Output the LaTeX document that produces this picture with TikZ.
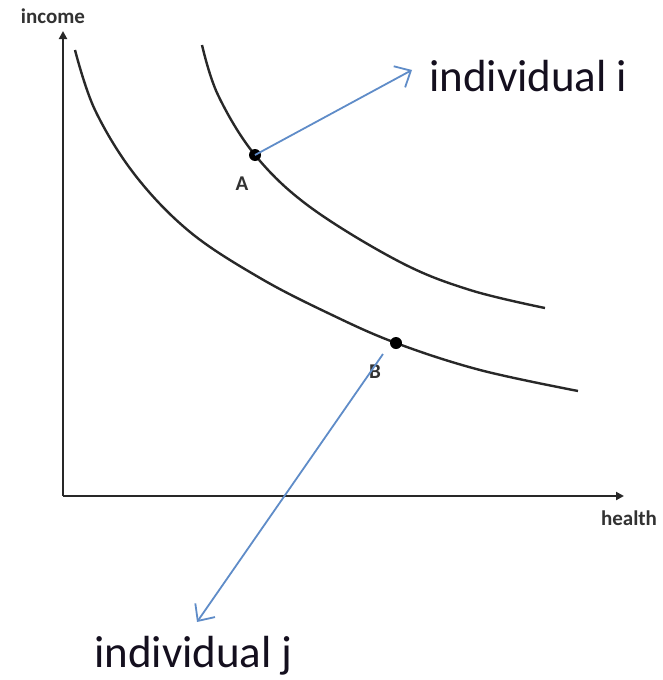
\documentclass[tikz,border=0pt]{standalone}
\usepackage{fontspec}
\setmainfont{Carlito}
\usetikzlibrary{arrows.meta}
\definecolor{arrowblue}{RGB}{95,140,200}
\definecolor{axisgray}{RGB}{40,40,40}
\definecolor{labelgray}{RGB}{50,50,50}
\definecolor{bigtext}{RGB}{20,15,30}
\tikzset{
  axis/.style={draw=axisgray, line width=2.8pt, -{Triangle[length=8pt,width=8pt]}},
  curve/.style={draw=axisgray, line width=2.4pt},
  dotpt/.style={circle, fill=black, inner sep=0pt, minimum size=12pt},
  pointer/.style={draw=arrowblue, line width=1.8pt, -{Straight Barb[length=13pt,width=24pt,line width=1.8pt]}},
  axlabel/.style={text=labelgray, font=\fontsize{21}{24}\selectfont\bfseries, inner sep=0pt},
  ptlabel/.style={text=labelgray, font=\fontsize{21}{23}\selectfont\bfseries, inner sep=0pt},
  biglabel/.style={text=bigtext, font=\fontsize{45}{50}\selectfont, inner sep=0pt, anchor=west}
}
\begin{document}
\begin{tikzpicture}[x=1pt,y=-1pt]
\useasboundingbox (0,0) rectangle (663,680);
% axes
\coordinate (O) at (63,496);
\coordinate (ytop) at (63,31);
\coordinate (xend) at (624,496);
\draw[axis] (O) -- (ytop);
\draw[axis] (O) -- (xend);
\node[axlabel] (income) at (53,16) {income};
\node[axlabel] (health) at (629,518) {health};
% indifference curves
\draw[curve] plot[smooth, tension=0.6] coordinates {(202,45) (218,95) (255,155) (310,207) (400,262) (470,290) (545,308)};
\draw[curve] plot[smooth, tension=0.6] coordinates {(75,50) (95,110) (135,175) (190,232) (260,278) (330,314) (396,343) (480,370) (578,391)};
% points
\node[dotpt] (A) at (255,155) {};
\node[dotpt] (B) at (396,343) {};
\node[ptlabel] (Alab) at (242,184) {A};
\node[ptlabel] (Blab) at (375,372) {B};
% pointers
\coordinate (iend) at (412,70);
\coordinate (jstart) at (383,354);
\coordinate (jend) at (197,622);
\draw[pointer] (A.center) -- (iend);
\draw[pointer] (jstart) -- (jend);
\node[biglabel] (indi) at (429,76) {individual i};
\node[biglabel] (indj) at (94,656) {individual j};
\end{tikzpicture}
\end{document}
